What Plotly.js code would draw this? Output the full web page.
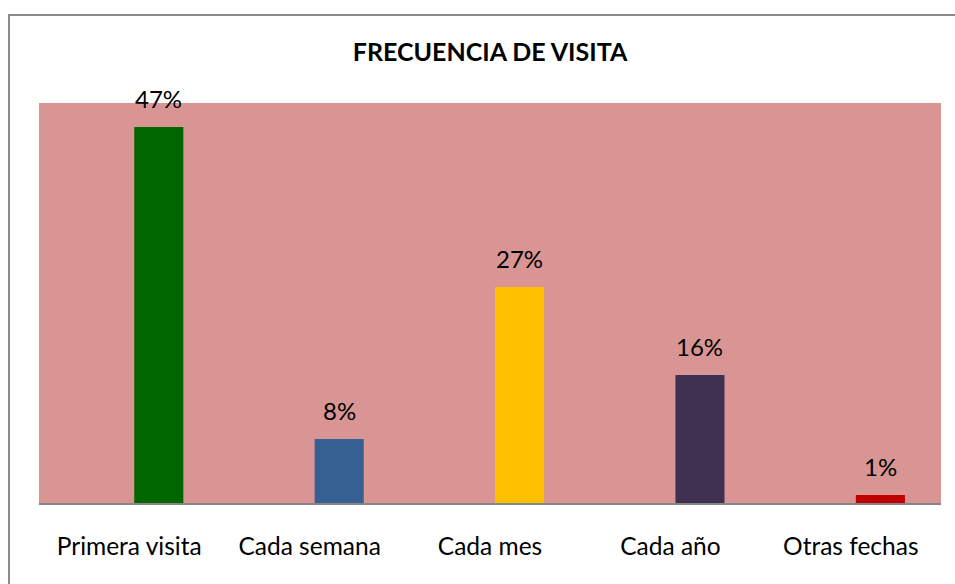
<!DOCTYPE html>
<html>
<head>
<meta charset="utf-8">
<script src="https://cdn.plot.ly/plotly-3.0.1.min.js"></script>
<style>
  html, body { margin: 0; padding: 0; background: #ffffff; }
  #wrap { position: relative; width: 955px; height: 584px; overflow: hidden; }
  #chart { position: absolute; left: 0; top: 0; width: 955px; height: 584px; }
  #frame { position: absolute; left: 8px; top: 14px; width: 1000px; height: 1000px;
           border-left: 2px solid #8a8a8a; border-top: 2px solid #8a8a8a; pointer-events: none; }
</style>
</head>
<body>
<div id="wrap">
  <div id="chart"></div>
  <div id="frame"></div>
</div>
<script>
const categories = ["Primera visita", "Cada semana", "Cada mes", "Cada año", "Otras fechas"];
const values = [47, 8, 27, 16, 1];
const labels = ["47%", "8%", "27%", "16%", "1%"];
const barColors = ["#006600", "#366092", "#FFC000", "#403151", "#C00000"];

const BAR_OFFSET = 0.028;
const BAR_WIDTH = 0.272;
const FONT = "Lato, 'Open Sans', sans-serif";

const trace = {
  type: "bar",
  x: categories,
  y: values,
  marker: { color: barColors, line: { width: 0 } },
  offset: BAR_OFFSET,
  width: BAR_WIDTH,
  hoverinfo: "skip"
};

const annotations = values.map((v, i) => ({
  x: i + BAR_OFFSET + BAR_WIDTH / 2,
  y: v,
  xref: "x",
  yref: "y",
  text: labels[i],
  showarrow: false,
  xanchor: "center",
  yanchor: "bottom",
  yshift: 12,
  font: { family: FONT, size: 24, color: "#000000" }
}));

const layout = {
  width: 955,
  height: 584,
  margin: { l: 39, r: 14, t: 103, b: 81 },
  paper_bgcolor: "#ffffff",
  plot_bgcolor: "#D99594",
  showlegend: false,
  title: {
    text: "FRECUENCIA DE VISITA",
    font: { family: FONT, size: 25, color: "#000000", weight: "bold" },
    x: 0.5,
    xanchor: "center",
    xref: "paper",
    y: 1 - 52 / 584,
    yanchor: "middle",
    yref: "container"
  },
  xaxis: {
    type: "category",
    range: [-0.5, 4.5],
    showline: true,
    linecolor: "#868686",
    linewidth: 2,
    ticks: "",
    showgrid: false,
    zeroline: false,
    ticklabelstandoff: 21,
    tickfont: { family: FONT, size: 24.5, color: "#000000" },
    fixedrange: true
  },
  yaxis: {
    range: [0, 50],
    showticklabels: false,
    showgrid: false,
    zeroline: false,
    ticks: "",
    showline: false,
    fixedrange: true
  },
  annotations: annotations
};

Plotly.newPlot("chart", [trace], layout, { displayModeBar: false, staticPlot: true });
</script>
</body>
</html>
